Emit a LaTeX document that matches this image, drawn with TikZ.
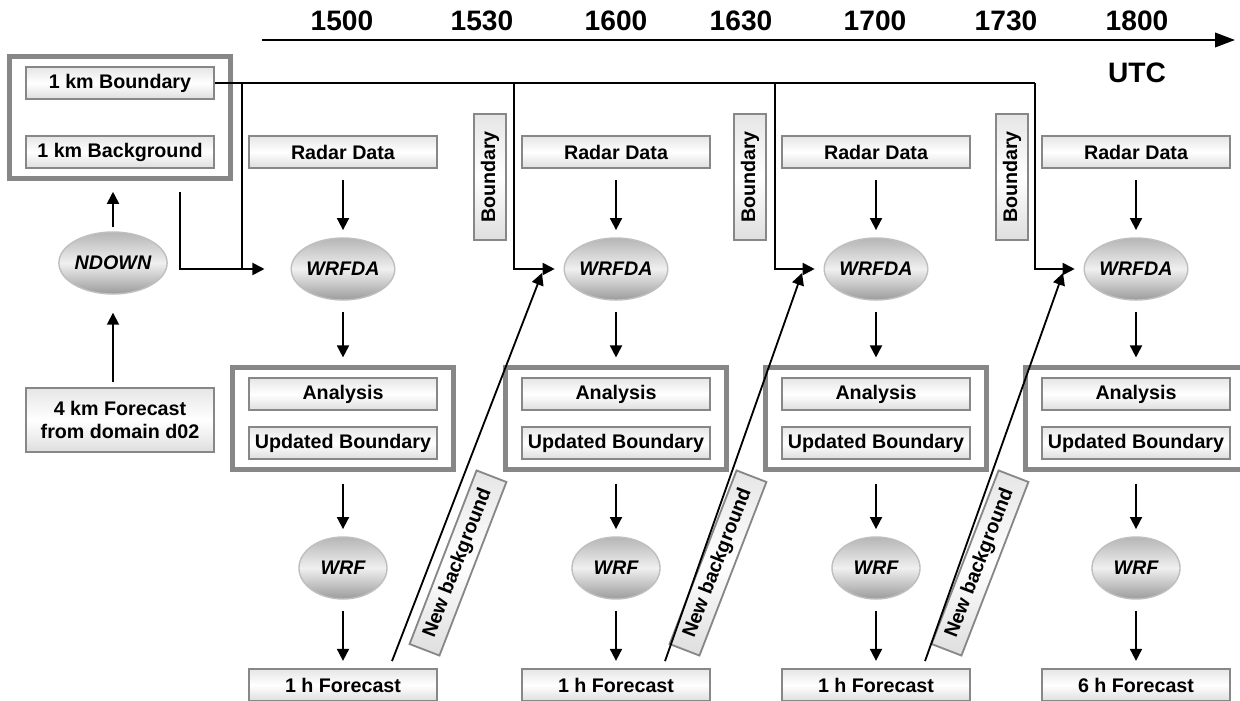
\documentclass[tikz,border=0pt]{standalone}
\usepackage{fontspec}
\setmainfont{Liberation Sans}
\usetikzlibrary{arrows.meta,fit,shapes.geometric}
\definecolor{framegray}{RGB}{135,135,135}
\tikzset{
  databox/.style={draw=framegray, line width=1.3pt, top color=gray!20, bottom color=gray!26, middle color=white,
    minimum width=4.7cm, minimum height=0.8cm, inner sep=0pt, font=\fontsize{14}{16}\selectfont\bfseries},
  proc/.style={ellipse, draw=gray!50, line width=1pt, top color=gray!58, bottom color=gray!78, middle color=gray!12,
    minimum width=2.2cm, minimum height=1.55cm, inner sep=0pt, font=\fontsize{14}{16}\selectfont\bfseries\itshape},
  groupbox/.style={draw=framegray, line width=3.5pt, inner xsep=0.38cm, inner ysep=0.25cm},
  tick/.style={font=\fontsize{20}{24}\selectfont\bfseries},
  flow/.style={line width=1.3pt, -{Triangle[length=0.3cm,width=0.3cm]}},
  feed/.style={line width=1.3pt},
}
\begin{document}
\begin{tikzpicture}[x=0.025cm,y=-0.025cm]
      \useasboundingbox (0,0) rectangle (1240,701);
      \draw[line width=1.8pt, -{Triangle[length=0.5cm,width=0.36cm]}] (262,40) -- (1235,40);
      \draw
        (342,21) node[tick] (t1500){1500}
        (482,21) node[tick] (t1530){1530}
        (616,21) node[tick] (t1600){1600}
        (741,21) node[tick] (t1630){1630}
        (875,21) node[tick] (t1700){1700}
        (1006,21) node[tick] (t1730){1730}
        (1137,21) node[tick] (t1800){1800}
        (1137,73) node[tick] (utc){UTC};
      \draw
        (120,83) node[databox] (bnd){1 km Boundary}
        (120,152) node[databox] (bkg){1 km Background}
        (113,263) node[proc] (ndown){NDOWN}
        (120,420) node[databox,minimum height=1.62cm,align=center] (d02){4 km Forecast\\from domain d02}
        (343,152) node[databox] (radar1){Radar Data}
        (616,152) node[databox] (radar2){Radar Data}
        (876,152) node[databox] (radar3){Radar Data}
        (1136,152) node[databox] (radar4){Radar Data}
        (343,269) node[proc] (wrfda1){WRFDA}
        (616,269) node[proc] (wrfda2){WRFDA}
        (876,269) node[proc] (wrfda3){WRFDA}
        (1136,269) node[proc] (wrfda4){WRFDA}
        (343,394) node[databox] (ana1){Analysis}
        (616,394) node[databox] (ana2){Analysis}
        (876,394) node[databox] (ana3){Analysis}
        (1136,394) node[databox] (ana4){Analysis}
        (343,443) node[databox] (upd1){Updated Boundary}
        (616,443) node[databox] (upd2){Updated Boundary}
        (876,443) node[databox] (upd3){Updated Boundary}
        (1136,443) node[databox] (upd4){Updated Boundary}
        (343,568) node[proc] (wrf1){WRF}
        (616,568) node[proc] (wrf2){WRF}
        (876,568) node[proc] (wrf3){WRF}
        (1136,568) node[proc] (wrf4){WRF}
        (343,685) node[databox] (fc1){1 h Forecast}
        (616,685) node[databox] (fc2){1 h Forecast}
        (876,685) node[databox] (fc3){1 h Forecast}
        (1136,685) node[databox] (fc4){6 h Forecast}
        (490,177) node[databox,minimum width=3.15cm,rotate=90] (bl2){Boundary}
        (750,177) node[databox,minimum width=3.15cm,rotate=90] (bl3){Boundary}
        (1012,177) node[databox,minimum width=3.15cm,rotate=90] (bl4){Boundary}
        (458,563) node[databox,minimum width=4.65cm,rotate=68.9] (nb1){New background}
        (718,563) node[databox,minimum width=4.65cm,rotate=68.9] (nb2){New background}
        (980,563) node[databox,minimum width=4.65cm,rotate=68.9] (nb3){New background};
      \node[groupbox,fit=(bnd)(bkg)] (grp0){};
      \node[groupbox,fit=(ana1)(upd1)] (grp1){};
      \node[groupbox,fit=(ana2)(upd2)] (grp2){};
      \node[groupbox,fit=(ana3)(upd3)] (grp3){};
      \node[groupbox,fit=(ana4)(upd4)] (grp4){};
      \coordinate (bgout) at (180,192);
      \coordinate (join1) at (242,269);
      \coordinate (bt2) at (514,83);
      \coordinate (bt3) at (775,83);
      \coordinate (bndend) at (1035,83);
      \coordinate (nbend1) at (542,273);
      \coordinate (nbend2) at (802,273);
      \coordinate (nbend3) at (1063,273);
      \begin{scope}[feed]
        \draw (bnd.east) -- (bndend);
        \draw (bnd.east -| join1) -- (join1);
      \end{scope}
      \begin{scope}[flow]
        \draw[shorten <=0.12cm,shorten >=0.45cm] (d02.north -| ndown.south) -- (ndown.south);
        \draw[shorten <=0.1cm,shorten >=0.26cm] (ndown.north) -- (ndown.north |- grp0.south);
        \draw[shorten >=0.65cm] (bgout) |- (wrfda1.west);
        \draw[shorten >=0.22cm] (bt2) |- (wrfda2.west);
        \draw[shorten >=0.22cm] (bt3) |- (wrfda3.west);
        \draw[shorten >=0.22cm] (bndend) |- (wrfda4.west);
        \draw ([xshift=1.225cm,yshift=0.175cm]fc1.north) -- (nbend1);
        \draw ([xshift=1.225cm,yshift=0.175cm]fc2.north) -- (nbend2);
        \draw ([xshift=1.225cm,yshift=0.175cm]fc3.north) -- (nbend3);
      \end{scope}
      \begin{scope}[flow,shorten <=0.28cm,shorten >=0.18cm]
        \draw (radar1) -- (wrfda1);
        \draw (radar2) -- (wrfda2);
        \draw (radar3) -- (wrfda3);
        \draw (radar4) -- (wrfda4);
        \draw (wrfda1) -- (grp1);
        \draw (wrfda2) -- (grp2);
        \draw (wrfda3) -- (grp3);
        \draw (wrfda4) -- (grp4);
        \draw (grp1) -- (wrf1);
        \draw (grp2) -- (wrf2);
        \draw (grp3) -- (wrf3);
        \draw (grp4) -- (wrf4);
        \draw (wrf1) -- (fc1);
        \draw (wrf2) -- (fc2);
        \draw (wrf3) -- (fc3);
        \draw (wrf4) -- (fc4);
      \end{scope}
    \end{tikzpicture}
\end{document}
